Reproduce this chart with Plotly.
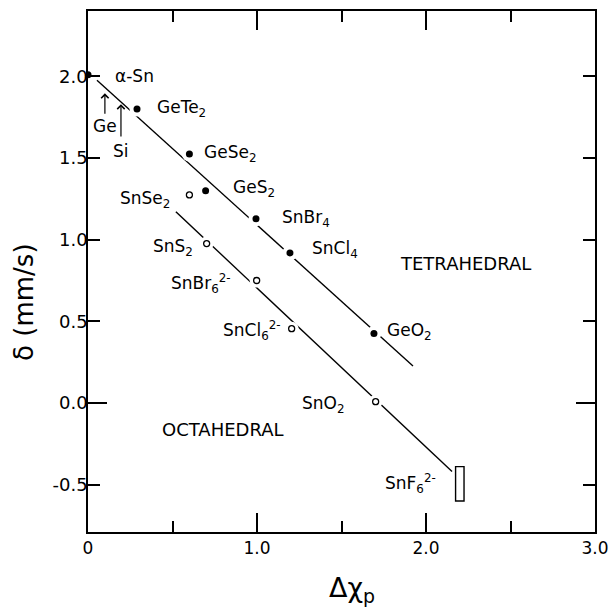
import plotly.graph_objects as go

# ---- data ----
tet_names = ["α-Sn", "GeTe2", "GeSe2", "GeS2", "SnBr4", "SnCl4", "GeO2"]
tet_x = [0.0, 0.29, 0.60, 0.696, 0.994, 1.195, 1.692]
tet_y = [2.01, 1.80, 1.524, 1.30, 1.128, 0.919, 0.425]

oct_names = ["SnSe2", "SnS2", "SnBr6", "SnCl6", "SnO2"]
oct_x = [0.60, 0.702, 0.998, 1.205, 1.702]
oct_y = [1.274, 0.976, 0.75, 0.455, 0.008]

tet_line_x = [0.053, 1.923]
tet_line_y = [1.976, 0.226]
oct_line_x = [0.52, 2.154]
oct_line_y = [1.171, -0.42]

snf6_x = [2.175, 2.225]
snf6_y = [-0.60, -0.39]

x_tickvals = [0, 1, 2, 3]
x_ticktext = ["0", "1.0", "2.0", "3.0"]
x_minor_tickvals = [0.5, 1.5, 2.5]
y_tickvals = [-0.5, 0.0, 0.5, 1.0, 1.5, 2.0]
y_ticktext = ["-0.5", "0.0", "0.5", "1.0", "1.5", "2.0"]

x_range = [0, 3.0]
y_range = [-0.79, 2.40]

# labels: (text, x, y)
tet_labels = [
    ("α-Sn", 0.148, 2.005),
    ("GeTe<sub>2</sub>", 0.395, 1.80),
    ("GeSe<sub>2</sub>", 0.672, 1.525),
    ("GeS<sub>2</sub>", 0.845, 1.315),
    ("SnBr<sub>4</sub>", 1.135, 1.13),
    ("SnCl<sub>4</sub>", 1.312, 0.94),
    ("GeO<sub>2</sub>", 1.757, 0.44),
]
oct_labels = [
    ("SnSe<sub>2</sub>", 0.177, 1.245),
    ("SnS<sub>2</sub>", 0.372, 0.95),
    ("SnBr<sub>6</sub><sup>2-</sup>", 0.477, 0.73),
    ("SnCl<sub>6</sub><sup>2-</sup>", 0.787, 0.445),
    ("SnO<sub>2</sub>", 1.257, -0.01),
    ("SnF<sub>6</sub><sup>2-</sup>", 1.745, -0.49),
]
region_labels = [("TETRAHEDRAL", 1.833, 0.854), ("OCTAHEDRAL", 0.425, -0.16)]

# arrows: (label, x, tip_y, tail_y, label_y)
arrows = [("Ge", 0.10, 1.896, 1.762, 1.695), ("Si", 0.195, 1.829, 1.622, 1.543)]

FONT = "DejaVu Sans"

fig = go.Figure()

# tetrahedral line + markers
fig.add_trace(go.Scatter(x=tet_line_x, y=tet_line_y, mode="lines",
                         line=dict(color="black", width=1.4), hoverinfo="skip", showlegend=False))
fig.add_trace(go.Scatter(x=tet_x, y=tet_y, mode="markers",
                         marker=dict(size=15, color="white"), hoverinfo="skip", showlegend=False))
fig.add_trace(go.Scatter(x=tet_x, y=tet_y, mode="markers", text=tet_names,
                         marker=dict(size=7, color="black"), showlegend=False))

# octahedral line + markers (on overlay axis y2)
fig.add_trace(go.Scatter(x=oct_line_x, y=oct_line_y, mode="lines", yaxis="y2",
                         line=dict(color="black", width=1.4), hoverinfo="skip", showlegend=False))
fig.add_trace(go.Scatter(x=oct_x, y=oct_y, mode="markers", yaxis="y2",
                         marker=dict(size=14, color="white"), hoverinfo="skip", showlegend=False))
fig.add_trace(go.Scatter(x=oct_x, y=oct_y, mode="markers", yaxis="y2", text=oct_names,
                         marker=dict(size=6, color="white", line=dict(color="black", width=1.3)),
                         showlegend=False))

# SnF6^2- bar
fig.add_shape(type="rect", xref="x", yref="y", x0=snf6_x[0], x1=snf6_x[1],
              y0=snf6_y[0], y1=snf6_y[1], line=dict(color="black", width=1.4),
              fillcolor="white")

LBL = dict(family=FONT, size=17, color="black")
ann = []
for t, x, y in tet_labels + oct_labels:
    ann.append(dict(x=x, y=y, xref="x", yref="y", text=t, showarrow=False,
                    xanchor="left", yanchor="middle", font=LBL))
for t, x, y in region_labels:
    ann.append(dict(x=x, y=y, xref="x", yref="y", text=t, showarrow=False,
                    xanchor="left", yanchor="middle",
                    font=dict(family=FONT, size=18, color="black")))
for t, x, tip, tail, ly in arrows:
    ann.append(dict(x=x, y=tip, ax=x, ay=tail, xref="x", yref="y", axref="x", ayref="y",
                    text="", showarrow=True, arrowhead=4, arrowsize=1.2, arrowwidth=1.2,
                    arrowcolor="black", standoff=0, startstandoff=0))
    ann.append(dict(x=x, y=ly, xref="x", yref="y", text=t, showarrow=False,
                    xanchor="center", yanchor="middle", font=LBL))

# axis titles (placed to match the reference's offset positions)
ann.append(dict(x=-0.126, y=0.44, xref="paper", yref="paper", text="δ (mm/s)",
                showarrow=False, textangle=-90, xanchor="center", yanchor="middle",
                font=dict(family=FONT, size=26, color="black")))
ann.append(dict(x=0.521, y=-0.111, xref="paper", yref="paper", text="Δχ<sub>p</sub>",
                showarrow=False, xanchor="center", yanchor="middle",
                font=dict(family=FONT, size=27, color="black")))

axis_common = dict(showline=True, linecolor="black", linewidth=1.6, mirror="ticks",
                   ticks="inside", tickcolor="black", tickwidth=1.5, showgrid=False,
                   zeroline=False, automargin=False)

fig.update_layout(
    width=609, height=608,
    margin=dict(l=88, r=14, t=11, b=76),
    paper_bgcolor="white", plot_bgcolor="white",
    showlegend=False,
    xaxis=dict(range=x_range, tickmode="array", tickvals=x_tickvals, ticktext=x_ticktext,
               ticklen=19, tickfont=dict(family=FONT, size=17, color="black"),
               minor=dict(tickmode="array", tickvals=x_minor_tickvals, ticks="inside",
                          ticklen=11, tickcolor="black", tickwidth=1.5, showgrid=False),
               **axis_common),
    yaxis=dict(range=y_range, tickmode="array", tickvals=y_tickvals, ticktext=y_ticktext,
               ticklen=12, ticklabelstandoff=-5,
               tickfont=dict(family=FONT, size=18, color="black"), **axis_common),
    yaxis2=dict(range=y_range, overlaying="y", side="left", tickmode="array", tickvals=[0],
                ticks="inside", ticklen=19, tickcolor="black", tickwidth=1.5,
                showticklabels=False, showline=False, mirror="ticks", showgrid=False,
                zeroline=False, automargin=False),
    annotations=ann,
)

fig.write_html("out.html", config={"displayModeBar": False},
               post_script="document.body.style.margin='0px';document.body.style.overflow='hidden';")
